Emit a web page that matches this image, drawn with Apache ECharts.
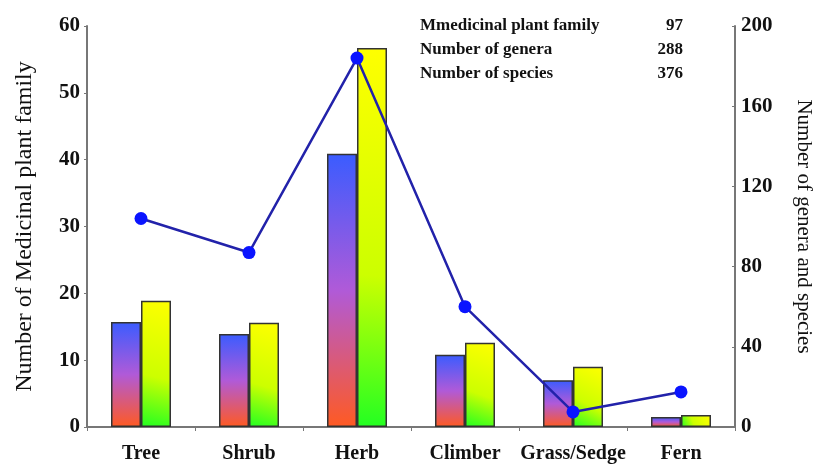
<!DOCTYPE html>
<html>
<head>
<meta charset="utf-8">
<script src="https://cdn.jsdelivr.net/npm/echarts@6/dist/echarts.min.js"></script>
<style>
  html, body { margin: 0; padding: 0; background: #fff; }
  #container { width: 817px; height: 470px; }
</style>
</head>
<body>
<div id="container"></div>
<script>
var categories = ['Tree', 'Shrub', 'Herb', 'Climber', 'Grass/Sedge', 'Fern'];
// bars read on the left axis
var generaBars = [15.7, 13.9, 40.9, 10.8, 7.0, 1.5];
var speciesBars = [18.9, 15.6, 56.7, 12.6, 9.0, 1.8];
// line read on the right axis
var familyLine = [104, 87, 184, 60, 7.5, 17.5];
var summaryNames = ['Mmedicinal plant family', 'Number of genera', 'Number of species'];
var summaryValues = ['97', '288', '376'];

var dom = document.getElementById('container');
var myChart = echarts.init(dom);
var serif = '"Liberation Serif", "DejaVu Serif", serif';

var summaryText = [];
summaryNames.forEach(function (name, i) {
    summaryText.push({
        type: 'text', left: 420, top: 17 + i * 24,
        style: { text: name, font: 'bold 17px ' + serif, fill: '#111' }
    });
    summaryText.push({
        type: 'text', right: 134, top: 17 + i * 24,
        style: { text: summaryValues[i], font: 'bold 17px ' + serif, fill: '#111', align: 'right' }
    });
});

var option = {
    animation: false,
    grid: { left: 87, right: 82, top: 26, bottom: 43, outerBoundsMode: 'none', containLabel: false },
    graphic: summaryText,
    xAxis: {
        type: 'category',
        data: categories,
        axisLine: { lineStyle: { color: '#777', width: 2 } },
        axisTick: { show: true, length: 4, lineStyle: { color: '#777' } },
        axisLabel: { interval: 0, color: '#111', fontFamily: serif, fontWeight: 'bold', fontSize: 20, margin: 17 }
    },
    yAxis: [
        {
            type: 'value', min: 0, max: 60, interval: 10,
            name: 'Number of Medicinal plant family',
            nameLocation: 'middle', nameGap: 50,
            nameTextStyle: { color: '#111', fontFamily: serif, fontSize: 24 },
            axisLine: { show: true, lineStyle: { color: '#777', width: 2 } },
            axisTick: { show: true, length: 3, lineStyle: { color: '#777' } },
            splitLine: { show: false },
            axisLabel: { color: '#111', fontFamily: serif, fontWeight: 'bold', fontSize: 21, margin: 7 }
        },
        {
            type: 'value', min: 0, max: 200, interval: 40,
            position: 'right',
            name: 'Number of genera and species',
            nameLocation: 'middle', nameGap: 58, nameRotate: -90,
            nameTextStyle: { color: '#111', fontFamily: serif, fontSize: 21 },
            axisLine: { show: true, lineStyle: { color: '#777', width: 2 } },
            axisTick: { show: true, length: 3, inside: true, lineStyle: { color: '#777' } },
            splitLine: { show: false },
            axisLabel: { color: '#111', fontFamily: serif, fontWeight: 'bold', fontSize: 21, margin: 6 }
        }
    ],
    series: [
        {
            name: 'Genera',
            type: 'bar',
            barWidth: 30,
            barGap: '0%',
            data: generaBars,
            itemStyle: {
                borderColor: '#333', borderWidth: 1.5,
                color: new echarts.graphic.LinearGradient(0, 0, 0, 1, [
                    { offset: 0, color: '#3a5cff' },
                    { offset: 0.5, color: '#b05ad8' },
                    { offset: 1, color: '#ff5a22' }
                ])
            }
        },
        {
            name: 'Species',
            type: 'bar',
            barWidth: 30,
            data: speciesBars,
            itemStyle: {
                borderColor: '#333', borderWidth: 1.5,
                color: new echarts.graphic.LinearGradient(1, 0, 0, 1, [
                    { offset: 0, color: '#ffff00' },
                    { offset: 0.6, color: '#ccff00' },
                    { offset: 1, color: '#22ff22' }
                ])
            }
        },
        {
            name: 'Family',
            type: 'line',
            yAxisIndex: 1,
            data: familyLine,
            symbol: 'circle',
            symbolSize: 13,
            lineStyle: { color: '#2222aa', width: 2.5 },
            itemStyle: { color: '#0a14ff' },
            z: 5
        }
    ]
};

if (option && typeof option === 'object') {
    myChart.setOption(option, true);
}
</script>
</body>
</html>
